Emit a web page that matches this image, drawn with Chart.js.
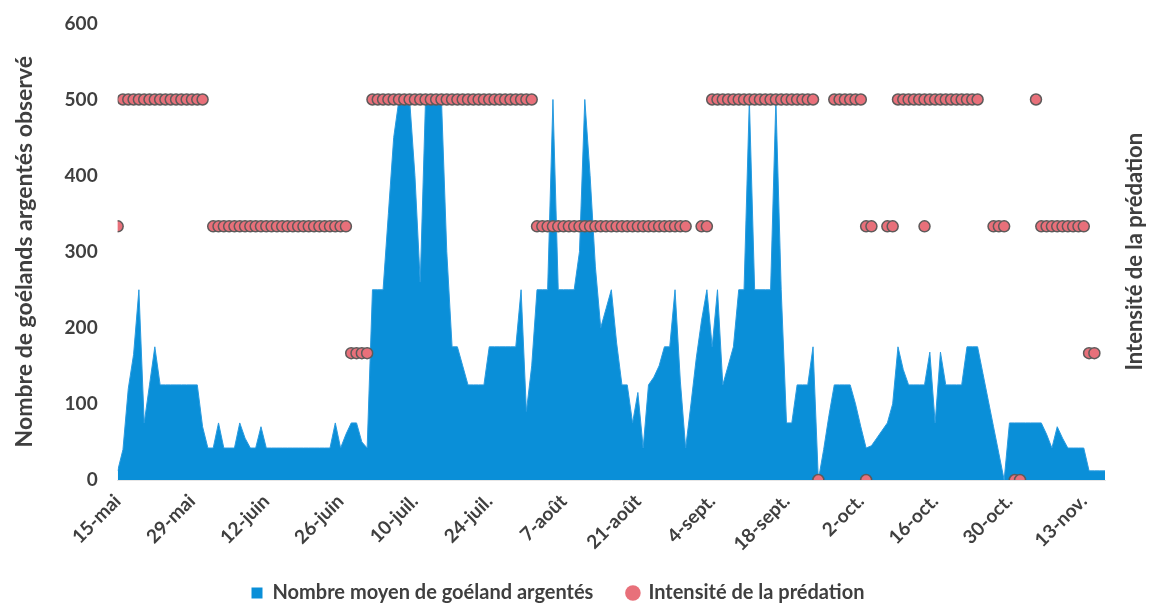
<!DOCTYPE html>
<html lang="fr">
<head>
<meta charset="utf-8">
<title>Goélands argentés et intensité de la prédation</title>
<script src="https://cdn.jsdelivr.net/npm/chart.js@4.4.1/dist/chart.umd.min.js"></script>
<style>
  html, body { margin: 0; padding: 0; background: #ffffff; }
  #wrap { width: 1152px; height: 608px; position: relative; }
</style>
</head>
<body>
<div id="wrap"><canvas id="chart" width="1152" height="608"></canvas></div>
<script>
// ---- Data ----
// Tick labels and their day index (days counted from 15 May)
const tickLabels = ['15-mai','29-mai','12-juin','26-juin','10-juil.','24-juil.','7-août','21-août','4-sept.','18-sept.','2-oct.','16-oct.','30-oct.','13-nov.'];
const tickDays   = [0, 14, 28, 42, 56, 70, 84, 98, 112, 126, 140, 154, 168, 182];

// Mean number of herring gulls observed, one value per day from 15 May (day 0) to day 186
const gullCounts = [
  12, 40, 120, 165, 250, 75, 125, 175, 125, 125,
  125, 125, 125, 125, 125, 125, 70, 42, 42, 75,
  42, 42, 42, 75, 55, 42, 42, 70, 42, 42,
  42, 42, 42, 42, 42, 42, 42, 42, 42, 42,
  42, 75, 42, 60, 75, 75, 50, 42, 250, 250,
  250, 350, 450, 500, 500, 500, 400, 260, 500, 500,
  500, 500, 300, 175, 175, 150, 125, 125, 125, 125,
  175, 175, 175, 175, 175, 175, 250, 90, 150, 250,
  250, 250, 500, 250, 250, 250, 250, 300, 500, 400,
  280, 200, 225, 250, 180, 125, 125, 75, 115, 42,
  125, 135, 150, 175, 175, 250, 130, 42, 100, 160,
  210, 250, 175, 250, 125, 150, 175, 250, 250, 500,
  250, 250, 250, 250, 500, 250, 75, 75, 125, 125,
  125, 175, 0, 40, 85, 125, 125, 125, 125, 100,
  70, 42, 45, 55, 65, 75, 100, 175, 145, 125,
  125, 125, 125, 168, 75, 168, 125, 125, 125, 125,
  175, 175, 175, 140, 105, 70, 35, 0, 75, 75,
  75, 75, 75, 75, 75, 60, 42, 70, 55, 42,
  42, 42, 42, 12, 12, 12, 12
];

// Predation intensity observations: day indices for each intensity level
const daysLevel3 = [1,2,3,4,5,6,7,8,9,10,11,12,13,14,15,16,
  48,49,50,51,52,53,54,55,56,57,58,59,60,61,62,63,64,65,66,67,68,69,70,71,72,73,74,75,76,77,78,
  112,113,114,115,116,117,118,119,120,121,122,123,124,125,126,127,128,129,130,131,
  135,136,137,138,139,140,
  147,148,149,150,151,152,153,154,155,156,157,158,159,160,161,162,
  173];
const daysLevel2 = [0,
  18,19,20,21,22,23,24,25,26,27,28,29,30,31,32,33,34,35,36,37,38,39,40,41,42,43,
  79,80,81,82,83,84,85,86,87,88,89,90,91,92,93,94,95,96,97,98,99,100,101,102,103,104,105,106,107,
  110,111,141,142,145,146,152,165,166,167,
  174,175,176,177,178,179,180,181,182];
const daysLevel1 = [44,45,46,47,183,184];
const daysLevel0 = [132,141,169,170];
const intensityLevels = [3, 2, 1, 0];

// Series names and axis titles
const seriesNames = ['Nombre moyen de goéland argentés', 'Intensité de la prédation'];
const leftTitle = 'Nombre de goélands argentés observé';
const rightTitle = 'Intensité de la prédation';

// ---- Build datasets ----
const areaData = gullCounts.map((v, i) => ({ x: i, y: v }));
const levelDays = [daysLevel3, daysLevel2, daysLevel1, daysLevel0];
const predData = [];
levelDays.forEach((days, k) => days.forEach(d => predData.push({ x: d, y: intensityLevels[k] })));

const FONT = "'Lato', 'Open Sans', 'Liberation Sans', sans-serif";
const TEXT = '#3f3f3f';
const BLUE = '#0a8fd8';
const RED = '#e8707a';

const rightTitlePlugin = {
  id: 'rightTitle',
  afterDraw(chart) {
    const { ctx, chartArea } = chart;
    ctx.save();
    ctx.font = "bold 22px " + FONT;
    ctx.fillStyle = TEXT;
    ctx.textAlign = 'center';
    ctx.textBaseline = 'middle';
    ctx.translate(chart.width - 17, (chartArea.top + chartArea.bottom) / 2);
    ctx.rotate(-Math.PI / 2);
    ctx.fillText(rightTitle, 0, 0);
    ctx.restore();
  }
};

new Chart(document.getElementById('chart'), {
  data: {
    datasets: [
      {
        type: 'line',
        label: seriesNames[0],
        data: areaData,
        yAxisID: 'y',
        fill: 'origin',
        backgroundColor: BLUE,
        borderColor: '#2a9be0',
        borderWidth: 1,
        pointRadius: 0,
        tension: 0,
        order: 2
      },
      {
        type: 'scatter',
        label: seriesNames[1],
        data: predData,
        yAxisID: 'y2',
        backgroundColor: RED,
        borderColor: '#5e5a5a',
        borderWidth: 1.5,
        pointRadius: 5.5,
        pointStyle: 'circle',
        order: 1
      }
    ]
  },
  options: {
    responsive: false,
    animation: false,
    devicePixelRatio: 1,
    layout: { padding: { left: 11, right: 47, top: 8, bottom: -5 } },
    plugins: {
      tooltip: { enabled: false },
      legend: {
        position: 'bottom',
        labels: {
          usePointStyle: true,
          font: { family: FONT, size: 20, weight: 'bold' },
          color: TEXT,
          boxWidth: 11,
          boxHeight: 11,
          padding: 4,
          generateLabels(chart) {
            return chart.data.datasets.map((ds, i) => ({
              text: i === 0 ? ds.label + '\u2003\u2003' : ds.label,
              fillStyle: i === 0 ? BLUE : RED,
              strokeStyle: i === 0 ? BLUE : RED,
              lineWidth: 0,
              pointStyle: i === 0 ? 'rect' : 'circle',
              datasetIndex: i,
              hidden: false,
              fontColor: TEXT
            }));
          }
        }
      }
    },
    scales: {
      x: {
        type: 'linear',
        min: 0,
        max: gullCounts.length - 1,
        grid: { display: false },
        border: { display: true, color: '#e6e6e6' },
        afterBuildTicks(scale) {
          scale.ticks = tickDays.map(v => ({ value: v }));
        },
        afterFit(scale) {
          scale.height = 99;
        },
        ticks: {
          autoSkip: false,
          minRotation: 45,
          maxRotation: 45,
          padding: 2,
          color: TEXT,
          font: { family: FONT, size: 19, weight: 'bold' },
          callback: (v) => {
            const k = tickDays.indexOf(v);
            return k >= 0 ? tickLabels[k] : '';
          }
        }
      },
      y: {
        position: 'left',
        min: 0,
        max: 600,
        grid: { display: false },
        border: { display: false },
        ticks: {
          stepSize: 100,
          padding: 12,
          color: TEXT,
          font: { family: FONT, size: 19, weight: 'bold' }
        },
        title: {
          display: true,
          text: leftTitle,
          color: TEXT,
          font: { family: FONT, size: 23, weight: 'bold' },
          padding: { top: 0, bottom: 14 }
        }
      },
      y2: {
        position: 'right',
        display: false,
        min: 0,
        max: 3.6
      }
    }
  },
  plugins: [rightTitlePlugin]
});
</script>
</body>
</html>
